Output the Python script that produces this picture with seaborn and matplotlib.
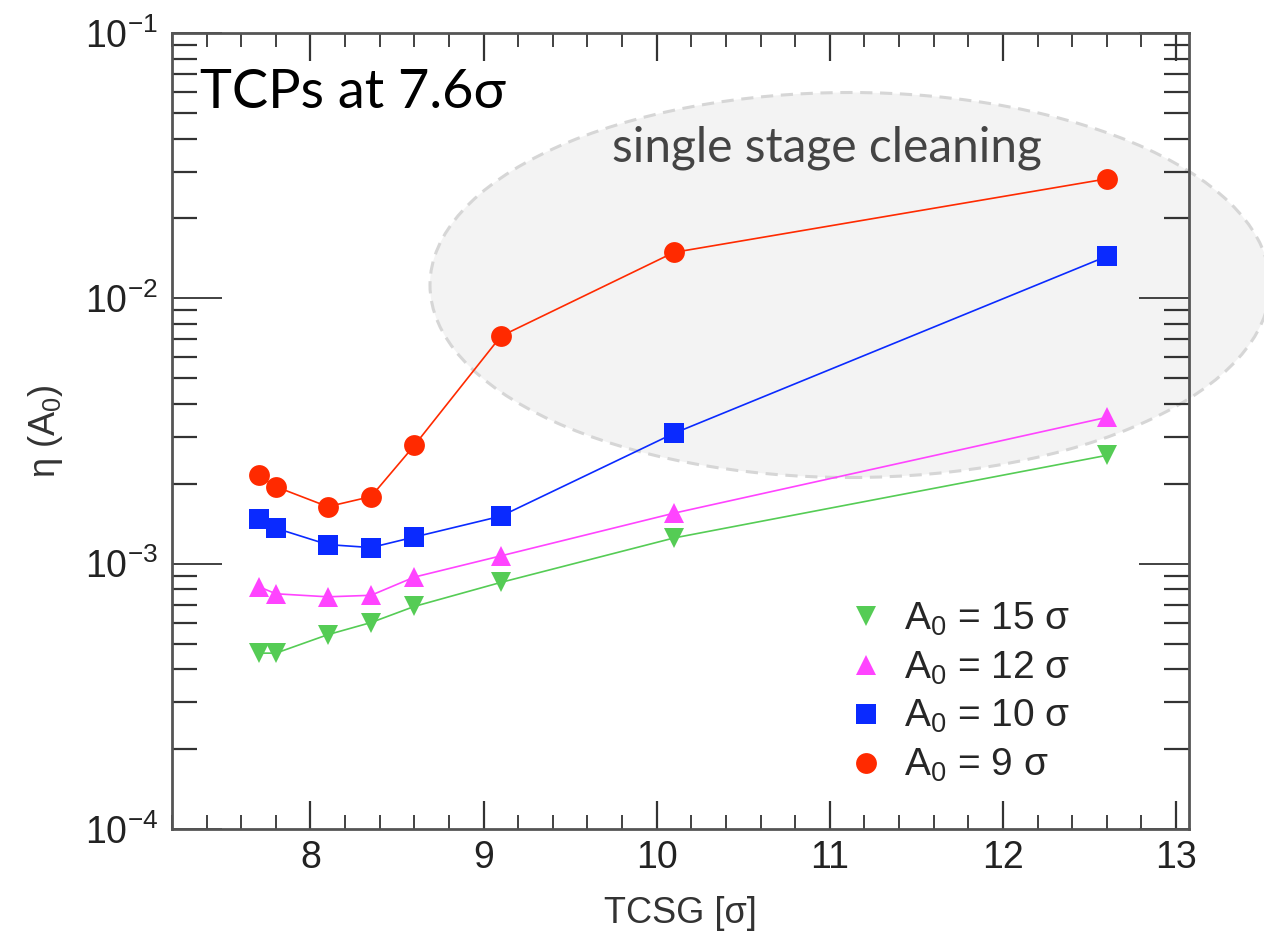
import matplotlib
matplotlib.use("Agg")
import matplotlib.pyplot as plt
from matplotlib.lines import Line2D
from matplotlib.patches import Ellipse
from matplotlib.ticker import FixedLocator, MultipleLocator, NullFormatter
import pandas as pd
import seaborn as sns

# TCSG setting [sigma]
tcsg = [7.7, 7.8, 8.1, 8.35, 8.6, 9.1, 10.1, 12.6]

# inefficiency eta(A0) per amplitude
eta_9 = [2.15e-3, 1.95e-3, 1.64e-3, 1.79e-3, 2.79e-3, 7.2e-3, 1.49e-2, 2.82e-2]
eta_10 = [1.47e-3, 1.36e-3, 1.18e-3, 1.15e-3, 1.26e-3, 1.51e-3, 3.10e-3, 1.44e-2]
eta_12 = [8.2e-4, 7.7e-4, 7.5e-4, 7.6e-4, 8.9e-4, 1.07e-3, 1.55e-3, 3.56e-3]
eta_15 = [4.6e-4, 4.6e-4, 5.4e-4, 6.0e-4, 6.9e-4, 8.5e-4, 1.25e-3, 2.56e-3]

series = ["15", "12", "10", "9"]
legend_labels = [r"A$_0$ = 15 σ", r"A$_0$ = 12 σ", r"A$_0$ = 10 σ", r"A$_0$ = 9 σ"]
ytick_vals = [1e-4, 1e-3, 1e-2, 1e-1]
ytick_labels = [r"10$^{-4}$", r"10$^{-3}$", r"10$^{-2}$", r"10$^{-1}$"]

colors = {"9": "#ff2a00", "10": "#0a2aff", "12": "#ff44ff", "15": "#55cc55"}
markers = {"9": "o", "10": "s", "12": "^", "15": "v"}

rows = []
for name, vals in zip(["9", "10", "12", "15"], [eta_9, eta_10, eta_12, eta_15]):
    for x, y in zip(tcsg, vals):
        rows.append({"tcsg": x, "eta": y, "A0": name})
df = pd.DataFrame(rows)

sns.set_style("white")
plt.rcParams["font.family"] = ["Liberation Sans", "DejaVu Sans"]
plt.rcParams["mathtext.default"] = "regular"

fig = plt.figure(figsize=(12.64, 9.35), dpi=100)
ax = fig.add_axes([172 / 1264, 1 - 829 / 935, (1189 - 172) / 1264, (829 - 33) / 935])

# shaded "single stage cleaning" region
ell = Ellipse((850 / 1264, 1 - 285 / 935), 840 / 1264, 385 / 935,
              transform=fig.transFigure, facecolor="#f3f3f3", edgecolor="#d6d6d6",
              linestyle=(0, (4, 2.5)), linewidth=2.2, clip_on=False, zorder=0.5)
ax.add_patch(ell)

sns.lineplot(data=df, x="tcsg", y="eta", hue="A0", style="A0",
             hue_order=["9", "10", "12", "15"], palette=colors, markers=markers,
             dashes=False, markersize=15, markeredgewidth=0, linewidth=1.2,
             legend=False, ax=ax, zorder=3)

ax.set_yscale("log")
ax.set_xlim(7.2, 13.075)
ax.set_ylim(1e-4, 1e-1)

ax.xaxis.set_major_locator(MultipleLocator(1))
ax.xaxis.set_minor_locator(MultipleLocator(0.2))
ax.yaxis.set_major_locator(FixedLocator(ytick_vals))
ax.set_yticklabels(ytick_labels)
minor_y = [m * 10.0 ** e for e in range(-4, -1) for m in range(2, 10)]
ax.yaxis.set_minor_locator(FixedLocator(minor_y))
ax.yaxis.set_minor_formatter(NullFormatter())

ax.tick_params(which="both", direction="in", top=True, right=True, bottom=True, left=True,
               color="#333333", labelcolor="#222222", labelsize=27)
ax.tick_params(axis="y", which="major", length=36, width=1.3, pad=10)
ax.tick_params(axis="y", which="minor", length=18, width=1.6)
ax.tick_params(axis="x", which="major", length=20, width=1.6, pad=8)
ax.tick_params(axis="x", which="minor", length=10, width=1.3)
for s in ax.spines.values():
    s.set_color("#555555")
    s.set_linewidth(2)

ax.set_xlabel("TCSG [σ]", fontsize=26, color="#333333", labelpad=14)
ax.set_ylabel(r"$\eta$ (A$_0$)", fontsize=26, color="#333333", labelpad=14)

handles = [Line2D([], [], linestyle="none", marker=markers[k], color=colors[k],
                  markersize=15, markeredgewidth=0) for k in series]
ax.legend(handles, legend_labels, loc="lower right", bbox_to_anchor=(0.918, 0.012),
          frameon=False, fontsize=28, handletextpad=0.4, labelspacing=0.3,
          handlelength=1.2)

fig.text(200 / 1264, 1 - 108 / 935, "TCPs at 7.6σ", fontsize=39, family=["Lato", "DejaVu Sans"],
         color="black", va="baseline", ha="left")
fig.text(612 / 1264, 1 - 162 / 935, "single stage cleaning", fontsize=34.5,
         family=["Lato", "DejaVu Sans"], color="#444444", va="baseline", ha="left")

fig.savefig("out.png", dpi=100)
